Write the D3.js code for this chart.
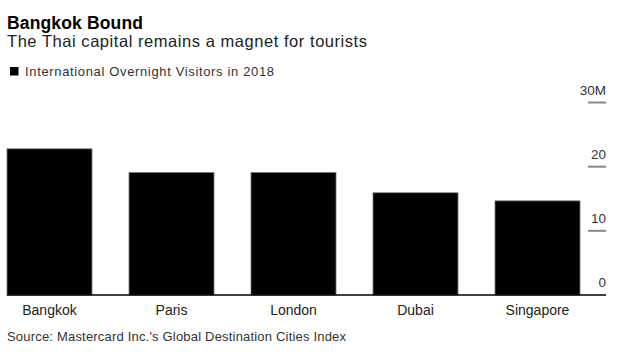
<!DOCTYPE html>
<html><head><meta charset="utf-8">
<script src="https://cdn.jsdelivr.net/npm/d3@7"></script>
<style>
body{margin:0;background:#fff;}
text{font-family:"Liberation Sans",Arial,sans-serif;}
</style></head>
<body><svg id="c" width="638" height="357"></svg>
<script>
const cities = ["Bangkok","Paris","London","Dubai","Singapore"];
const visitors = [22.78, 19.10, 19.09, 15.93, 14.67];
const tickValues = [0, 10, 20, 30];
const tickLabels = ["0","10","20","30M"];

const svg = d3.select("#c");
const x = d3.scaleBand().domain(cities).range([7, 580]).paddingInner(37/122).paddingOuter(0);
const y = d3.scaleLinear().domain([0, 30]).range([295, 102.5]);

function fit(sel, w){ sel.attr("textLength", w).attr("lengthAdjust","spacing"); return sel; }

fit(svg.append("text").attr("x",7).attr("y",29).attr("font-size",17.5).attr("font-weight","bold").attr("fill","#000").text("Bangkok Bound"), 136);
fit(svg.append("text").attr("x",7).attr("y",47).attr("font-size",16.5).attr("fill","#222").text("The Thai capital remains a magnet for tourists"), 360);
svg.append("rect").attr("x",10).attr("y",67).attr("width",8.5).attr("height",8.5).attr("fill","#000");
fit(svg.append("text").attr("x",25).attr("y",75.5).attr("font-size",13).attr("fill","#333").text("International Overnight Visitors in 2018"), 249);

// y axis ticks (right side)
const ax = svg.append("g").attr("transform","translate(606,0)");
ax.selectAll("line.t").data(tickValues.filter(v=>v>0)).join("line")
  .attr("x1",-18).attr("x2",0).attr("y1",d=>y(d)).attr("y2",d=>y(d))
  .attr("stroke","#888").attr("stroke-width",2);
ax.selectAll("text").data(tickValues).join("text")
  .attr("x",0).attr("y",d=>y(d)-8).attr("text-anchor","end")
  .attr("font-size",13.5).attr("fill","#333").text((d,i)=>tickLabels[i]);

svg.selectAll("rect.bar").data(cities).join("rect").attr("class","bar")
  .attr("x",d=>x(d)).attr("width",x.bandwidth())
  .attr("y",(d,i)=>y(visitors[i])).attr("height",(d,i)=>y(0)-y(visitors[i]))
  .attr("fill","#000").attr("stroke","#777").attr("stroke-width",0.8);

svg.append("line").attr("x1",7).attr("x2",606).attr("y1",y(0)).attr("y2",y(0)).attr("stroke","#000").attr("stroke-width",1.5);

svg.selectAll("text.cat").data(cities).join("text").attr("class","cat")
  .attr("x",d=>x(d)+x.bandwidth()/2).attr("y",315).attr("text-anchor","middle")
  .attr("font-size",14).attr("fill","#222").text(d=>d);

fit(svg.append("text").attr("x",7).attr("y",341).attr("font-size",13).attr("fill","#333").text("Source: Mastercard Inc.'s Global Destination Cities Index"), 339);
</script></body></html>
